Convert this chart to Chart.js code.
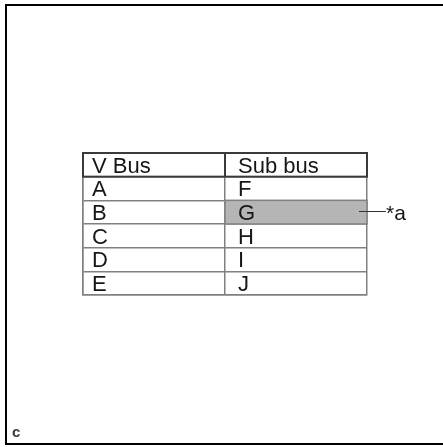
<!DOCTYPE html>
<html lang="en">
<head>
<meta charset="utf-8">
<title>V Bus / Sub bus</title>
<script src="https://cdn.jsdelivr.net/npm/chart.js@4.4.1/dist/chart.umd.min.js"></script>
<style>
  html, body { margin: 0; padding: 0; background: #fff; }
  #wrap { width: 443px; height: 447px; }
</style>
</head>
<body>
<div id="wrap"><canvas id="busTable" width="443" height="447"></canvas></div>
<script>
  // table content
  var columns = ['V Bus', 'Sub bus'];
  var vBus = ['A', 'B', 'C', 'D', 'E'];
  var subBus = ['F', 'G', 'H', 'I', 'J'];
  var highlighted = ['G'];
  var calloutText = '*a';
  var cornerText = 'c';

  // row keys for the y axis: header row first
  var rows = [columns[0]].concat(vBus);
  var shaded = rows.map(function (r, i) {
    if (i == 0) return null;
    return highlighted.indexOf(subBus[i - 1]) >= 0 ? [1, 2] : null;
  });

  var FONT = '"Liberation Sans", Arial, sans-serif';
  var LINE = '#808080';

  var tablePlugin = {
    id: 'tablePlugin',
    beforeDraw: function (chart) {
      var ctx = chart.ctx;
      ctx.save();
      ctx.fillStyle = '#fff';
      ctx.fillRect(0, 0, chart.width, chart.height);
      ctx.restore();
    },
    afterDraw: function (chart) {
      var ctx = chart.ctx;
      var xs = chart.scales.x, ys = chart.scales.y;
      var half = (ys.getPixelForValue(1) - ys.getPixelForValue(0)) / 2;
      var pads = [9, 13];
      ctx.save();

      // outline of the shaded cells, so the fill does not hide them
      ctx.strokeStyle = LINE;
      ctx.lineWidth = 1.5;
      shaded.forEach(function (v, j) {
        if (!v) return;
        var x0 = xs.getPixelForValue(v[0]), x1 = xs.getPixelForValue(v[1]);
        ctx.strokeRect(x0, ys.getPixelForValue(j) - half, x1 - x0, half * 2);
      });

      // header box
      var top = ys.getPixelForValue(0) - half, bot = ys.getPixelForValue(0) + half;
      ctx.strokeStyle = '#3a3a3a';
      ctx.lineWidth = 2;
      ctx.strokeRect(xs.getPixelForValue(0), top, xs.getPixelForValue(2) - xs.getPixelForValue(0), bot - top);
      ctx.beginPath();
      ctx.moveTo(xs.getPixelForValue(1), top);
      ctx.lineTo(xs.getPixelForValue(1), bot);
      ctx.stroke();

      // cell text
      ctx.fillStyle = '#161616';
      ctx.font = '22px ' + FONT;
      ctx.textBaseline = 'alphabetic';
      ctx.textAlign = 'left';
      for (var i = 0; i < rows.length; i++) {
        var yb = ys.getPixelForValue(i) + half - 4;
        var cells = i == 0 ? columns : [vBus[i - 1], subBus[i - 1]];
        for (var c = 0; c < 2; c++) {
          ctx.fillText(cells[c], xs.getPixelForValue(c) + pads[c], yb);
        }
      }

      // callout for the shaded cell
      for (var j = 0; j < shaded.length; j++) {
        if (!shaded[j]) continue;
        var yc = Math.round(ys.getPixelForValue(j)) - 0.5;
        var xa = xs.getPixelForValue(2) - 8;
        ctx.strokeStyle = '#333';
        ctx.lineWidth = 1;
        ctx.beginPath();
        ctx.moveTo(xa, yc);
        ctx.lineTo(xa + 27, yc);
        ctx.stroke();
        ctx.font = '21px ' + FONT;
        ctx.fillText(calloutText, xa + 27, yc + 8);
      }

      // frame and corner label
      ctx.strokeStyle = '#000';
      ctx.lineWidth = 2;
      ctx.beginPath();
      ctx.moveTo(chart.width + 2, 5);
      ctx.lineTo(6, 5);
      ctx.lineTo(6, 444);
      ctx.lineTo(chart.width + 2, 444);
      ctx.stroke();
      ctx.fillStyle = '#3c3c3c';
      ctx.font = 'bold 15px ' + FONT;
      ctx.fillText(cornerText, 12, 437);
      ctx.restore();
    }
  };

  new Chart(document.getElementById('busTable'), {
    type: 'bar',
    data: {
      labels: rows,
      datasets: [{
        data: shaded,
        backgroundColor: '#b5b5b5',
        borderWidth: 0,
        barPercentage: 1,
        categoryPercentage: 1
      }]
    },
    options: {
      indexAxis: 'y',
      responsive: false,
      animation: false,
      layout: { padding: { left: 83, right: 76, top: 153, bottom: 152 } },
      plugins: { legend: { display: false }, tooltip: { enabled: false } },
      scales: {
        x: {
          type: 'linear', min: 0, max: 2,
          ticks: { display: false, stepSize: 1 },
          grid: { color: LINE, lineWidth: 1.5, drawTicks: false },
          border: { display: true, color: LINE, width: 1.5 }
        },
        y: {
          type: 'category', offset: true,
          ticks: { display: false },
          grid: { offset: true, color: LINE, lineWidth: 1.5, drawTicks: false },
          border: { display: true, color: LINE, width: 1.5 }
        }
      }
    },
    plugins: [tablePlugin]
  });
</script>
</body>
</html>
